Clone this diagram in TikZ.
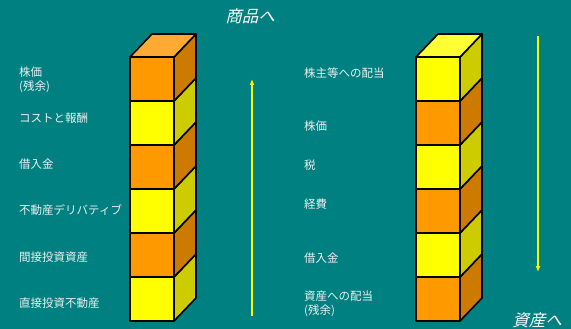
\documentclass[tikz,border=0pt]{standalone}
\usepackage{fontspec}
\setmainfont{Noto Sans CJK JP}
\newfontfamily\jpslant[FakeSlant=0.25]{Noto Sans CJK JP}
\usetikzlibrary{arrows.meta}
\begin{document}
\definecolor{teal}{RGB}{0,128,128}
\definecolor{orfront}{RGB}{255,153,0}
\definecolor{orside}{RGB}{204,122,0}
\definecolor{ortop}{RGB}{255,170,51}
\definecolor{yefront}{RGB}{255,255,0}
\definecolor{yeside}{RGB}{204,204,0}
\definecolor{yetop}{RGB}{255,255,51}
\definecolor{labeltext}{RGB}{235,240,240}
\begin{tikzpicture}[x=1pt,y=-1pt,
  blockline/.style={draw=black,line width=1.6pt,line join=round},
  lbl/.style={anchor=west,text=labeltext,font=\fontsize{11.5}{14}\selectfont,inner sep=0pt,align=left},
  heading/.style={text=white,font=\jpslant\fontsize{16.5}{18}\selectfont,inner sep=0pt},
  flow/.style={draw=yellow,line width=1.4pt,-{Latex[length=6pt,width=5pt]}}]
% background
\fill[teal] (0,0) rectangle (571,329);
\useasboundingbox (0,0) rectangle (571,329);

% one cube of a column: #1 left x, #2 top y, #3 front, #4 side
\newcommand{\cubeblock}[4]{%
  \filldraw[blockline,fill=#4] (#1+44,#2) -- (#1+66,#2-23) -- (#1+66,#2+21) -- (#1+44,#2+44) -- cycle;
  \filldraw[blockline,fill=#3] (#1,#2) rectangle (#1+44,#2+44);
}
\newcommand{\cubetop}[3]{%
  \filldraw[blockline,fill=#3] (#1,#2) -- (#1+22,#2-23) -- (#1+66,#2-23) -- (#1+44,#2) -- cycle;
}

% left column (bottom to top)
\cubeblock{130}{277}{yefront}{yeside}
\cubeblock{130}{233}{orfront}{orside}
\cubeblock{130}{189}{yefront}{yeside}
\cubeblock{130}{145}{orfront}{orside}
\cubeblock{130}{101}{yefront}{yeside}
\cubeblock{130}{57}{orfront}{orside}
\cubetop{130}{57}{ortop}

% right column (bottom to top)
\cubeblock{416}{277}{orfront}{orside}
\cubeblock{416}{233}{yefront}{yeside}
\cubeblock{416}{189}{orfront}{orside}
\cubeblock{416}{145}{yefront}{yeside}
\cubeblock{416}{101}{orfront}{orside}
\cubeblock{416}{57}{yefront}{yeside}
\cubetop{416}{57}{yetop}

% left labels
\node[lbl] (l1) at (19,80) {株価\\(残余)};
\node[lbl] (l2) at (19,118) {コストと報酬};
\node[lbl] (l3) at (19,164) {借入金};
\node[lbl] (l4) at (19,210) {不動産デリバティブ};
\node[lbl] (l5) at (19,257) {間接投資資産};
\node[lbl] (l6) at (19,303) {直接投資不動産};

% right labels
\node[lbl] (r1) at (304,73) {株主等への配当};
\node[lbl] (r2) at (304,126) {株価};
\node[lbl] (r3) at (304,165) {税};
\node[lbl] (r4) at (304,204) {経費};
\node[lbl] (r5) at (304,258) {借入金};
\node[lbl] (r6) at (304,304) {資産への配当\\(残余)};

% headings
\node[heading] (up) at (250,16) {商品へ};
\node[heading] (down) at (537,320) {資産へ};

% flow arrows
\coordinate (ua) at (252,316);
\coordinate (ub) at (252,79);
\coordinate (da) at (538,36);
\coordinate (db) at (538,272);
\draw[flow] (ua) -- (ub);
\draw[flow] (da) -- (db);
\end{tikzpicture}
\end{document}
